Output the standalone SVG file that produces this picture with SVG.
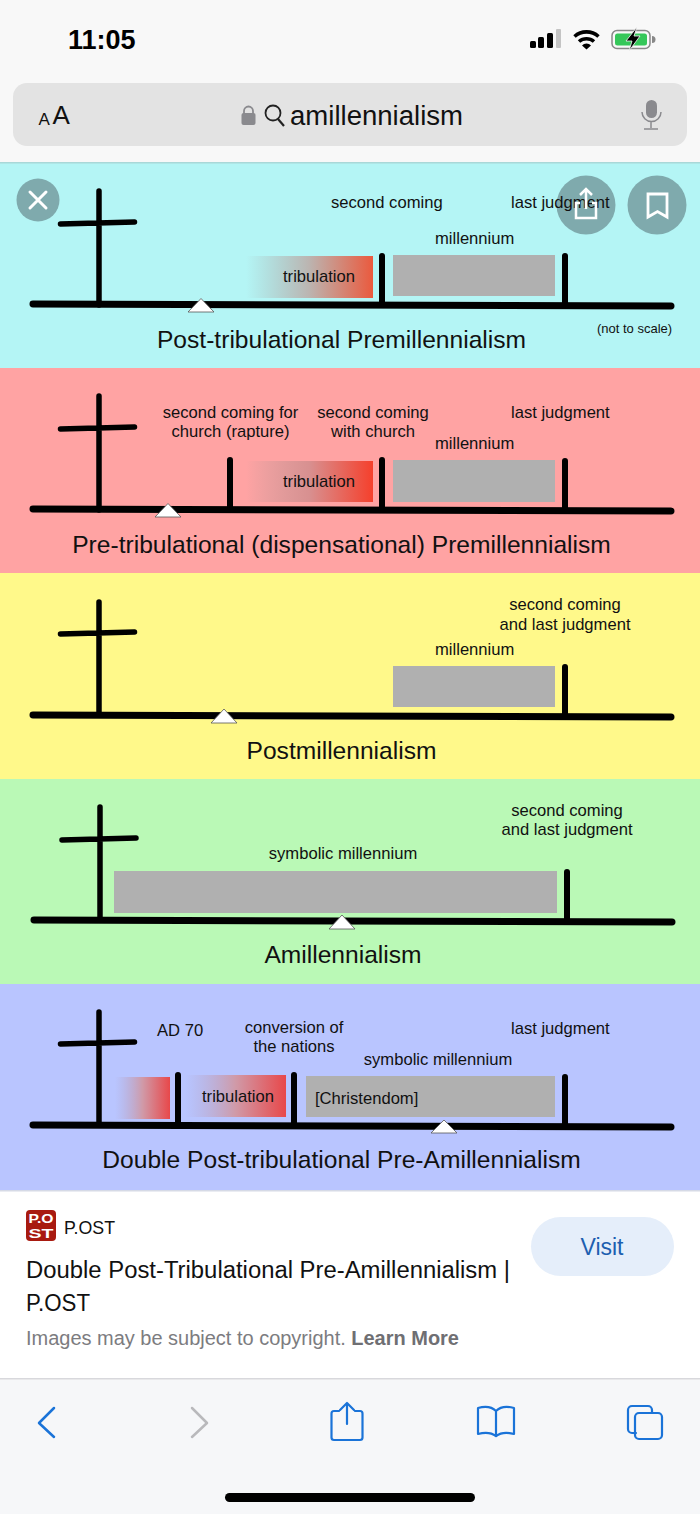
<svg xmlns="http://www.w3.org/2000/svg" width="700" height="1514" viewBox="0 0 700 1514">
<style>
text{font-family:"Liberation Sans",Arial,sans-serif;fill:#111}
.l{font-size:16.6px}
.c{text-anchor:middle}
.t{font-size:24.6px;text-anchor:middle}
.ln{stroke:#000;stroke-linecap:round;fill:none}
.cr{stroke-width:5.500}
.st{stroke-width:6}
.ax{stroke-width:7}
.gray{fill:#b0b0b0}
.tri{fill:#fff;stroke:#555;stroke-width:.8}
.ic{fill:none;stroke:#1a73d8;stroke-width:2.200;stroke-linecap:round;stroke-linejoin:round}
.ctl{fill:#7faaad}
.logo{font-size:13px;font-weight:700;fill:#fff}
</style>
<defs>
<linearGradient id="g1"><stop offset="0" stop-color="#aab8b8" stop-opacity="0"/><stop offset=".5" stop-color="#bcb4b0"/><stop offset="1" stop-color="#ea5a3e"/></linearGradient>
<linearGradient id="g2"><stop offset="0" stop-color="#c09a9a" stop-opacity="0"/><stop offset=".5" stop-color="#d89090"/><stop offset="1" stop-color="#f5402c"/></linearGradient>
<linearGradient id="g3"><stop offset="0" stop-color="#b0a8d0" stop-opacity="0"/><stop offset=".5" stop-color="#d09aa8"/><stop offset="1" stop-color="#e8484a"/></linearGradient>
</defs>
<rect width="700" height="1514" fill="#f8f8f8"/>
<g id="status-bar">
<text x="68" y="49" style="font-size:27px;font-weight:700;fill:#000">11:05</text>
<g fill="#000"><rect x="530" y="41" width="6" height="7" rx="1.500"/><rect x="538" y="37" width="6" height="11" rx="1.500"/><rect x="547" y="33" width="6" height="15" rx="1.500"/></g>
<rect x="556" y="29" width="5" height="19" rx="1" fill="#c4c4c4"/>
<path d="M574.500 36.500a18 18 0 0 1 24 0M579 41.500a11.500 11.500 0 0 1 15 0" fill="none" stroke="#000" stroke-width="3.600"/><path d="M582 45.500l4.500 4 4.500-4a6 6 0 0 0-9 0z" fill="#000"/>
<rect x="612" y="30.500" width="38" height="18" rx="5" fill="none" stroke="#888" stroke-width="1.500"/><rect x="615" y="33.500" width="32" height="12" rx="2.500" fill="#35c759"/><path d="M652 36v7a3 3 0 0 0 0-7z" fill="#888"/><path d="M637 27l-11 14h6l-3 10 11-15h-6z" fill="#000" stroke="#f8f8f8" stroke-width=".8"/>
</g>
<g id="address-bar">
<rect x="13" y="83" width="674" height="63" rx="14" fill="#e3e3e3"/>
<text x="38.500" y="125" style="font-size:17px">A</text><text x="52.500" y="124" style="font-size:26px">A</text>
<path d="M244 114v-3a4.500 4.500 0 0 1 9 0v3" fill="none" stroke="#8a8a8e" stroke-width="1.800"/><rect x="241.500" y="113" width="14" height="12" rx="2" fill="#8a8a8e"/>
<circle cx="273" cy="113" r="7.500" fill="none" stroke="#222" stroke-width="1.800"/><path d="M278 119l6 7" stroke="#222" stroke-width="2.200"/>
<text x="290" y="125" style="font-size:27px" textLength="173" lengthAdjust="spacingAndGlyphs">amillennialism</text>
<rect x="646" y="100" width="11" height="18" rx="5.500" fill="#8a8a8e"/><path d="M642 112a9.500 9.500 0 0 0 19 0M651 122v6M644 129h14" fill="none" stroke="#8a8a8e" stroke-width="1.500"/>
</g>
<g id="post-tribulational">
<rect y="162" width="700" height="206" fill="#b4f5f5"/>
<rect y="162" width="700" height="1.500" fill="#a9d8d8"/>
<rect x="246" y="256" width="127" height="42" fill="url(#g1)"/>
<rect x="393" y="255" width="162" height="41" class="gray"/>
<path class="ln cr" d="M99 191V305M60.500 224L134.500 222"/>
<path class="ln st" d="M382 256V304M565 256V305"/><path class="ln ax" d="M33 304L671 306"/>
<path class="tri" d="M188 312L201 298.500L214 312Z"/>
<text class="l" x="331" y="208">second coming</text>
<text class="l" x="435" y="244">millennium</text>
<text class="l" x="283" y="282">tribulation</text>
<text class="t" x="341.500" y="348">Post-tribulational Premillennialism</text>
<text x="597" y="333" style="font-size:13px">(not to scale)</text>
</g>
<g id="pre-tribulational">
<rect y="368" width="700" height="205" fill="#ffa3a3"/>
<rect x="246" y="461" width="127" height="41" fill="url(#g2)"/>
<rect x="393" y="460" width="162" height="42" class="gray"/>
<path class="ln cr" d="M99 396V510M60.500 429L134.500 427"/>
<path class="ln st" d="M230 460V509M382 460V509M565 461V510"/><path class="ln ax" d="M33 509L671 511"/>
<path class="tri" d="M155 517L168 503.500L181 517Z"/>
<text class="l c" x="230.500" y="418">second coming for</text>
<text class="l c" x="230.500" y="437">church (rapture)</text>
<text class="l c" x="373" y="418">second coming</text>
<text class="l c" x="373" y="437">with church</text>
<text class="l" x="511" y="418">last judgment</text>
<text class="l" x="435" y="449">millennium</text>
<text class="l" x="283" y="487">tribulation</text>
<text class="t" x="341.500" y="553">Pre-tribulational (dispensational) Premillennialism</text>
</g>
<g id="postmillennialism">
<rect y="573" width="700" height="206" fill="#fff98a"/>
<rect x="393" y="666" width="162" height="41" class="gray"/>
<path class="ln cr" d="M99 602V715M60.500 634L134.500 632"/>
<path class="ln st" d="M565 667V715"/><path class="ln ax" d="M33 715L671 717"/>
<path class="tri" d="M211 723L224 709L237 723Z"/>
<text class="l c" x="565" y="610">second coming</text>
<text class="l c" x="565" y="630">and last judgment</text>
<text class="l" x="435" y="655">millennium</text>
<text class="t" x="341.500" y="759">Postmillennialism</text>
</g>
<g id="amillennialism">
<rect y="779" width="700" height="205" fill="#baf9b6"/>
<rect x="114" y="871" width="443" height="42" class="gray"/>
<path class="ln cr" d="M100 807V920M62 840L136 838"/>
<path class="ln st" d="M567 872V920"/><path class="ln ax" d="M34 920L672 922"/>
<path class="tri" d="M329 929L342 915L355 929Z"/>
<text class="l c" x="567" y="816">second coming</text>
<text class="l c" x="567" y="835">and last judgment</text>
<text class="l c" x="343" y="859">symbolic millennium</text>
<text class="t" x="343" y="963">Amillennialism</text>
</g>
<g id="double-post-tribulational">
<rect y="984" width="700" height="206" fill="#b9c5ff"/>
<rect x="115" y="1077" width="55" height="42" fill="url(#g3)"/>
<rect x="185" y="1075" width="101" height="42" fill="url(#g3)"/>
<rect x="306" y="1076" width="249" height="41" class="gray"/>
<path class="ln cr" d="M99 1012V1125M60.500 1044L134.500 1042"/>
<path class="ln st" d="M178 1075V1124M294 1075V1124M565 1077V1125"/><path class="ln ax" d="M33 1125L671 1127"/>
<path class="tri" d="M431 1133L444 1120L457 1133Z"/>
<text class="l" x="157" y="1036">AD 70</text>
<text class="l c" x="294" y="1033">conversion of</text>
<text class="l c" x="294" y="1052">the nations</text>
<text class="l" x="511" y="1034">last judgment</text>
<text class="l c" x="438" y="1065">symbolic millennium</text>
<text class="l" x="202" y="1102">tribulation</text>
<text class="l" x="315" y="1104">[Christendom]</text>
<text class="t" x="341.500" y="1168">Double Post-tribulational Pre-Amillennialism</text>
</g>
<g id="overlay-controls">
<circle class="ctl" cx="38" cy="200" r="21.500"/><path d="M30 192L46 208M46 192L30 208" stroke="#fff" stroke-width="3" stroke-linecap="round"/>
<circle class="ctl" cx="586" cy="205" r="29.500"/>
<text class="l" x="511" y="208">last judgment</text>
<path d="M580 203h-4v15h20v-15h-4M586 209V190M580 195l6-6 6 6" fill="none" stroke="#fff" stroke-width="2.500"/>
<circle class="ctl" cx="657" cy="205" r="29.500"/><path d="M648 194h19v23l-9.500-5.500-9.500 5.500z" fill="none" stroke="#fff" stroke-width="2.800"/>
</g>
<g id="caption-card">
<rect y="1190" width="700" height="189" fill="#fff"/>
<rect y="1190" width="700" height="1.500" fill="#d6dae6"/>
<rect x="26" y="1210" width="30" height="31" rx="4" fill="#a81a10"/>
<text x="41" y="1223" class="c logo" textLength="25" lengthAdjust="spacingAndGlyphs">P.O</text>
<text x="41" y="1238" class="c logo" textLength="25" lengthAdjust="spacingAndGlyphs">ST</text>
<text x="64" y="1234" style="font-size:17.500px" textLength="51" lengthAdjust="spacingAndGlyphs">P.OST</text>
<text x="26" y="1278" style="font-size:23px" textLength="484" lengthAdjust="spacingAndGlyphs">Double Post-Tribulational Pre-Amillennialism |</text>
<text x="26" y="1311" style="font-size:23px" textLength="64" lengthAdjust="spacingAndGlyphs">P.OST</text>
<text x="26" y="1345" style="font-size:19.500px;fill:#7c7c80" textLength="433" lengthAdjust="spacingAndGlyphs">Images may be subject to copyright. <tspan font-weight="700" fill="#6f6f73">Learn More</tspan></text>
<rect x="531" y="1217" width="143" height="59" rx="29.500" fill="#e5eefa"/>
<text x="602" y="1255" class="c" style="font-size:23px;fill:#1d5fb0">Visit</text>
<rect y="1378" width="700" height="1.500" fill="#d8d8dc"/>
</g>
<g id="toolbar">
<rect y="1380" width="700" height="134" fill="#f6f7f9"/>
<path class="ic" style="stroke-width:2.500" d="M54 1408L39 1423L54 1437"/>
<path class="ic" style="stroke:#b9b9bc;stroke-width:2.500" d="M192 1408L207 1423L192 1437"/>
<path class="ic" d="M339 1411h-5a2.500 2.500 0 0 0-2.500 2.500v24a2.500 2.500 0 0 0 2.500 2.500h26a2.500 2.500 0 0 0 2.500-2.500v-24a2.500 2.500 0 0 0-2.500-2.500h-5M347 1424V1403M340 1410l7-7 7 7"/>
<path class="ic" d="M496 1436c-4-3-11-4-18-2v-26c7-2 14-1 18 3 4-4 11-5 18-3v26c-7-2-14-1-18 2zM496 1411v25"/>
<path class="ic" d="M636 1433h-4a4 4 0 0 1-4-4v-19a4 4 0 0 1 4-4h16a4 4 0 0 1 4 4v3"/>
<rect class="ic" x="635" y="1413" width="27" height="26" rx="4"/>
<rect x="225" y="1493" width="250" height="9" rx="4.500" fill="#000"/>
</g>
</svg>
